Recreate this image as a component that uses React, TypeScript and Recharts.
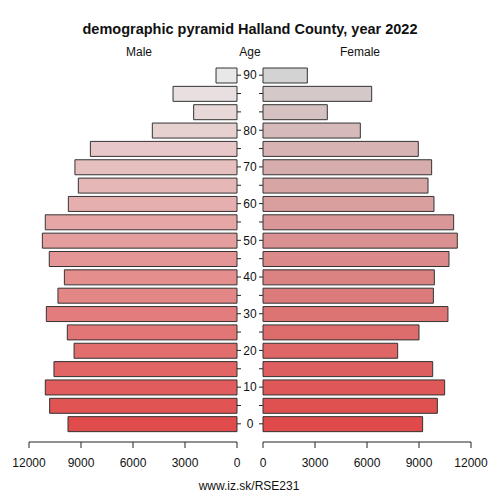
import { BarChart, Bar, XAxis, YAxis, Cell } from "recharts";

// age groups, bottom row first
const AGES = [
  "0", "5", "10", "15", "20", "25", "30", "35", "40", "45",
  "50", "55", "60", "65", "70", "75", "80", "85", "90", "95",
];
const AGE_LABELS = [
  "0", "", "10", "", "20", "", "30", "", "40", "",
  "50", "", "60", "", "70", "", "80", "", "", "90",
];
const MALE = [
  9750, 10810, 11060, 10560, 9400, 9790, 11000, 10330, 9960, 10830,
  11230, 11060, 9730, 9155, 9350, 8460, 4885, 2500, 3690, 1210,
];
const FEMALE = [
  9210, 10060, 10480, 9790, 7770, 9000, 10670, 9830, 9885, 10730,
  11210, 11000, 9865, 9520, 9730, 8960, 5615, 3710, 6270, 2557,
];
const X_TICKS = [0, 3000, 6000, 9000, 12000];

const FONT = '"Liberation Sans", Arial, Helvetica, sans-serif';

const data = AGES.map((age, i) => ({
  age,
  label: AGE_LABELS[i],
  male: MALE[i],
  female: FEMALE[i],
}));

function mix(a: number[], b: number[], t: number) {
  const c = a.map((v, k) => Math.round(v + (b[k] - v) * t));
  return `rgb(${c[0]},${c[1]},${c[2]})`;
}

function maleColor(i: number) {
  if (i === AGES.length - 1) return "rgb(232,232,232)";
  return mix([224, 76, 76], [232, 224, 224], i / (AGES.length - 2));
}

function femaleColor(i: number) {
  if (i === AGES.length - 1) return "rgb(211,211,211)";
  return mix([224, 74, 74], [213, 200, 200], i / (AGES.length - 2));
}

function AgeTick(props: any) {
  const { x, y, index } = props;
  const label = AGE_LABELS[index];
  return (
    <g>
      <line x1={x} x2={x + 4} y1={y} y2={y} stroke="#222" />
      <line x1={x + 22} x2={x + 26} y1={y} y2={y} stroke="#222" />
      {label && (
        <text
          x={x + 13}
          y={y + 4.3}
          textAnchor="middle"
          fontSize={12}
          fontFamily={FONT}
          fill="#111"
        >
          {label}
        </text>
      )}
    </g>
  );
}

const tickStyle = { fontSize: 12, fill: "#111", fontFamily: FONT };

export default function App() {
  return (
    <div
      style={{
        position: "absolute",
        top: 0,
        left: 0,
        width: 500,
        height: 500,
        background: "#fff",
        fontFamily: FONT,
      }}
    >
      <svg
        width={500}
        height={500}
        style={{ position: "absolute", top: 0, left: 0 }}
      >
        <text x={250} y={34} textAnchor="middle" fontSize={14.5} fontWeight="bold" fill="#111">
          demographic pyramid Halland County, year 2022
        </text>
        <text x={139} y={55.5} textAnchor="middle" fontSize={12} fill="#111">
          Male
        </text>
        <text x={250} y={55.5} textAnchor="middle" fontSize={12} fill="#111">
          Age
        </text>
        <text x={360} y={55.5} textAnchor="middle" fontSize={12} fill="#111">
          Female
        </text>
        <text x={249} y={490} textAnchor="middle" fontSize={12} fill="#111">
          www.iz.sk/RSE231
        </text>
      </svg>

      <div style={{ position: "absolute", top: 0, left: 0 }}>
        <BarChart
          width={263}
          height={500}
          data={data}
          layout="vertical"
          margin={{ top: 57, right: 0, bottom: 18, left: 29 }}
        >
          <XAxis
            type="number"
            dataKey="male"
            domain={[0, 12000]}
            ticks={X_TICKS}
            reversed
            interval={0}
            height={40}
            tickMargin={10}
            tick={tickStyle}
            stroke="#222"
          />
          <YAxis
            type="category"
            dataKey="age"
            orientation="right"
            reversed
            width={26}
            interval={0}
            axisLine={false}
            tickLine={false}
            tickSize={0}
            tickMargin={0}
            padding={{ top: 9, bottom: 9 }}
            tick={<AgeTick />}
          />
          <Bar dataKey="male" barSize={15} stroke="#333" strokeWidth={1} isAnimationActive={false}>
            {data.map((_d, i) => (
              <Cell key={`m-${i}`} fill={maleColor(i)} />
            ))}
          </Bar>
        </BarChart>
      </div>

      <div style={{ position: "absolute", top: 0, left: 250 }}>
        <BarChart
          width={250}
          height={500}
          data={data}
          layout="vertical"
          margin={{ top: 57, right: 29, bottom: 18, left: 13 }}
        >
          <XAxis
            type="number"
            dataKey="female"
            domain={[0, 12000]}
            ticks={X_TICKS}
            interval={0}
            height={40}
            tickMargin={10}
            tick={tickStyle}
            stroke="#222"
          />
          <YAxis
            type="category"
            dataKey="age"
            reversed
            hide
            padding={{ top: 9, bottom: 9 }}
          />
          <Bar dataKey="female" barSize={15} stroke="#333" strokeWidth={1} isAnimationActive={false}>
            {data.map((_d, i) => (
              <Cell key={`f-${i}`} fill={femaleColor(i)} />
            ))}
          </Bar>
        </BarChart>
      </div>
    </div>
  );
}
